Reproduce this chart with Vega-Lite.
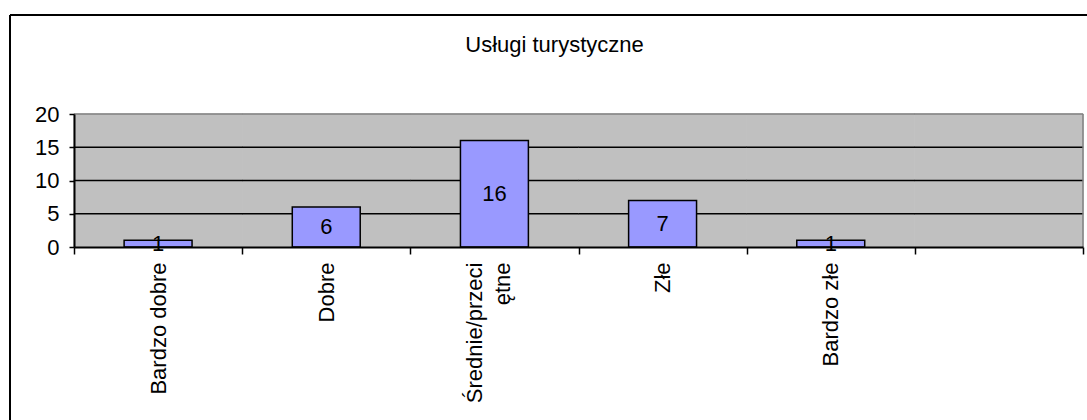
{
  "$schema": "https://vega.github.io/schema/vega-lite/v6.json",
  "width": 1077,
  "height": 405,
  "padding": {"left": 10, "top": 15, "right": 0, "bottom": 0},
  "autosize": {"type": "none"},
  "background": "white",
  "title": {"text": "Usługi turystyczne", "fontSize": 22, "font": "Liberation Sans", "fontWeight": "normal", "color": "#000000", "anchor": "middle", "frame": "group", "baseline": "alphabetic", "offset": -59, "dx": 6},
  "data": {"values": [
    {"kategoria": "Bardzo dobre", "liczba": 1},
    {"kategoria": "Dobre", "liczba": 6},
    {"kategoria": "Średnie/przeciętne", "liczba": 16},
    {"kategoria": "Złe", "liczba": 7},
    {"kategoria": "Bardzo złe", "liczba": 1},
    {"kategoria": " ", "liczba": null}
  ]},
  "layer": [
    {
      "layer": [
        {
          "mark": {"type": "rect", "fill": "#C0C0C0", "stroke": "#C0C0C0", "strokeWidth": 1},
          "encoding": {
            "x": {"field": "kategoria", "type": "nominal", "sort": null,
              "scale": {"type": "band", "domain": ["Bardzo dobre", "Dobre", "Średnie/przeciętne", "Złe", "Bardzo złe", " "], "range": [64, 1073], "paddingInner": 0, "paddingOuter": 0},
              "axis": {"orient": "bottom", "offset": -173, "tickBand": "extent", "tickSize": 7, "tickWidth": 1.5, "tickColor": "#000000", "domainColor": "#000000", "domainWidth": 2, "grid": false, "labelAngle": 270, "labelAlign": "right", "labelBaseline": {"condition": {"test": "datum.value == 'Średnie/przeciętne'", "value": "line-bottom"}, "value": "middle"}, "labelOffset": {"condition": {"test": "datum.value == 'Średnie/przeciętne'", "value": -5}, "value": 0}, "labelPadding": 8, "labelFont": "Liberation Sans", "labelFontSize": 22, "labelColor": "#000000", "labelLineHeight": 28, "labelLimit": 0, "labelOverlap": false, "labelExpr": "datum.value == 'Średnie/przeciętne' ? ['Średnie/przeci', 'ętne'] : datum.label", "title": null, "zindex": 1}},
            "y": {"datum": 20, "type": "quantitative",
              "scale": {"domain": [0, 20], "range": [232, 99], "nice": false, "zero": true},
              "axis": {"orient": "left", "offset": -64, "values": [0, 5, 10, 15, 20], "grid": false, "domainColor": "#000000", "domainWidth": 2, "tickColor": "#000000", "tickWidth": 1.5, "tickSize": 5, "labelFont": "Liberation Sans", "labelFontSize": 22, "labelColor": "#000000", "labelPadding": 10, "title": null, "zindex": 1}},
            "y2": {"datum": 0}
          }
        },
        {"mark": {"type": "tick", "orient": "horizontal", "size": 168.5, "thickness": 1.5, "color": "#000000", "opacity": 1}, "encoding": {"x": {"field": "kategoria", "type": "nominal"}, "y": {"datum": 5, "type": "quantitative"}}},
        {"mark": {"type": "tick", "orient": "horizontal", "size": 168.5, "thickness": 1.5, "color": "#000000", "opacity": 1}, "encoding": {"x": {"field": "kategoria", "type": "nominal"}, "y": {"datum": 10, "type": "quantitative"}}},
        {"mark": {"type": "tick", "orient": "horizontal", "size": 168.5, "thickness": 1.5, "color": "#000000", "opacity": 1}, "encoding": {"x": {"field": "kategoria", "type": "nominal"}, "y": {"datum": 15, "type": "quantitative"}}},
        {"mark": {"type": "tick", "orient": "horizontal", "size": 168.5, "thickness": 1.5, "color": "#808080", "opacity": 1}, "encoding": {"x": {"field": "kategoria", "type": "nominal"}, "y": {"datum": 20, "type": "quantitative"}}},
        {"transform": [{"filter": "datum.kategoria === ' '"}], "mark": {"type": "rule", "color": "#808080", "strokeWidth": 1.5}, "encoding": {"x": {"field": "kategoria", "type": "nominal", "bandPosition": 1}, "y": {"datum": 0, "type": "quantitative"}, "y2": {"datum": 20}}}
      ]
    },
    {
      "layer": [
        {
          "mark": {"type": "bar", "fill": "#9999FF", "stroke": "#000000", "strokeWidth": 1.5},
          "encoding": {
            "x": {"field": "kategoria", "type": "nominal", "sort": null,
              "scale": {"type": "band", "domain": ["Bardzo dobre", "Dobre", "Średnie/przeciętne", "Złe", "Bardzo złe", " "], "range": [64, 1073], "paddingInner": 0.596, "paddingOuter": 0.298},
              "axis": null},
            "y": {"field": "liczba", "type": "quantitative", "scale": {"domain": [0, 20], "range": [232, 99], "nice": false}, "axis": null}
          }
        },
        {
          "mark": {"type": "text", "font": "Liberation Sans", "fontSize": 22, "color": "#000000", "baseline": "middle", "align": "center"},
          "encoding": {
            "x": {"field": "kategoria", "type": "nominal"},
            "y": {"field": "liczba", "type": "quantitative", "scale": {"domain": [0, 40], "range": [232, 99], "nice": false}, "axis": null},
            "text": {"field": "liczba", "type": "quantitative"}
          }
        }
      ],
      "resolve": {"scale": {"y": "independent"}}
    },
    {
      "mark": {"type": "point", "opacity": 0},
      "encoding": {
        "y": {"datum": 0, "type": "quantitative", "scale": {"domain": [0, 1], "range": [405, 0], "nice": false, "zero": false},
          "axis": {"orient": "left", "offset": 0, "translate": 0, "domain": true, "domainColor": "#000000", "domainWidth": 2, "ticks": false, "labels": false, "grid": false, "title": null, "zindex": 2}}
      }
    }
  ],
  "resolve": {"scale": {"x": "independent", "y": "independent"}},
  "config": {
    "view": {"stroke": "#000000", "strokeWidth": 2, "strokeDash": [1077, 1887], "fill": null},
    "font": "Liberation Sans"
  }
}
